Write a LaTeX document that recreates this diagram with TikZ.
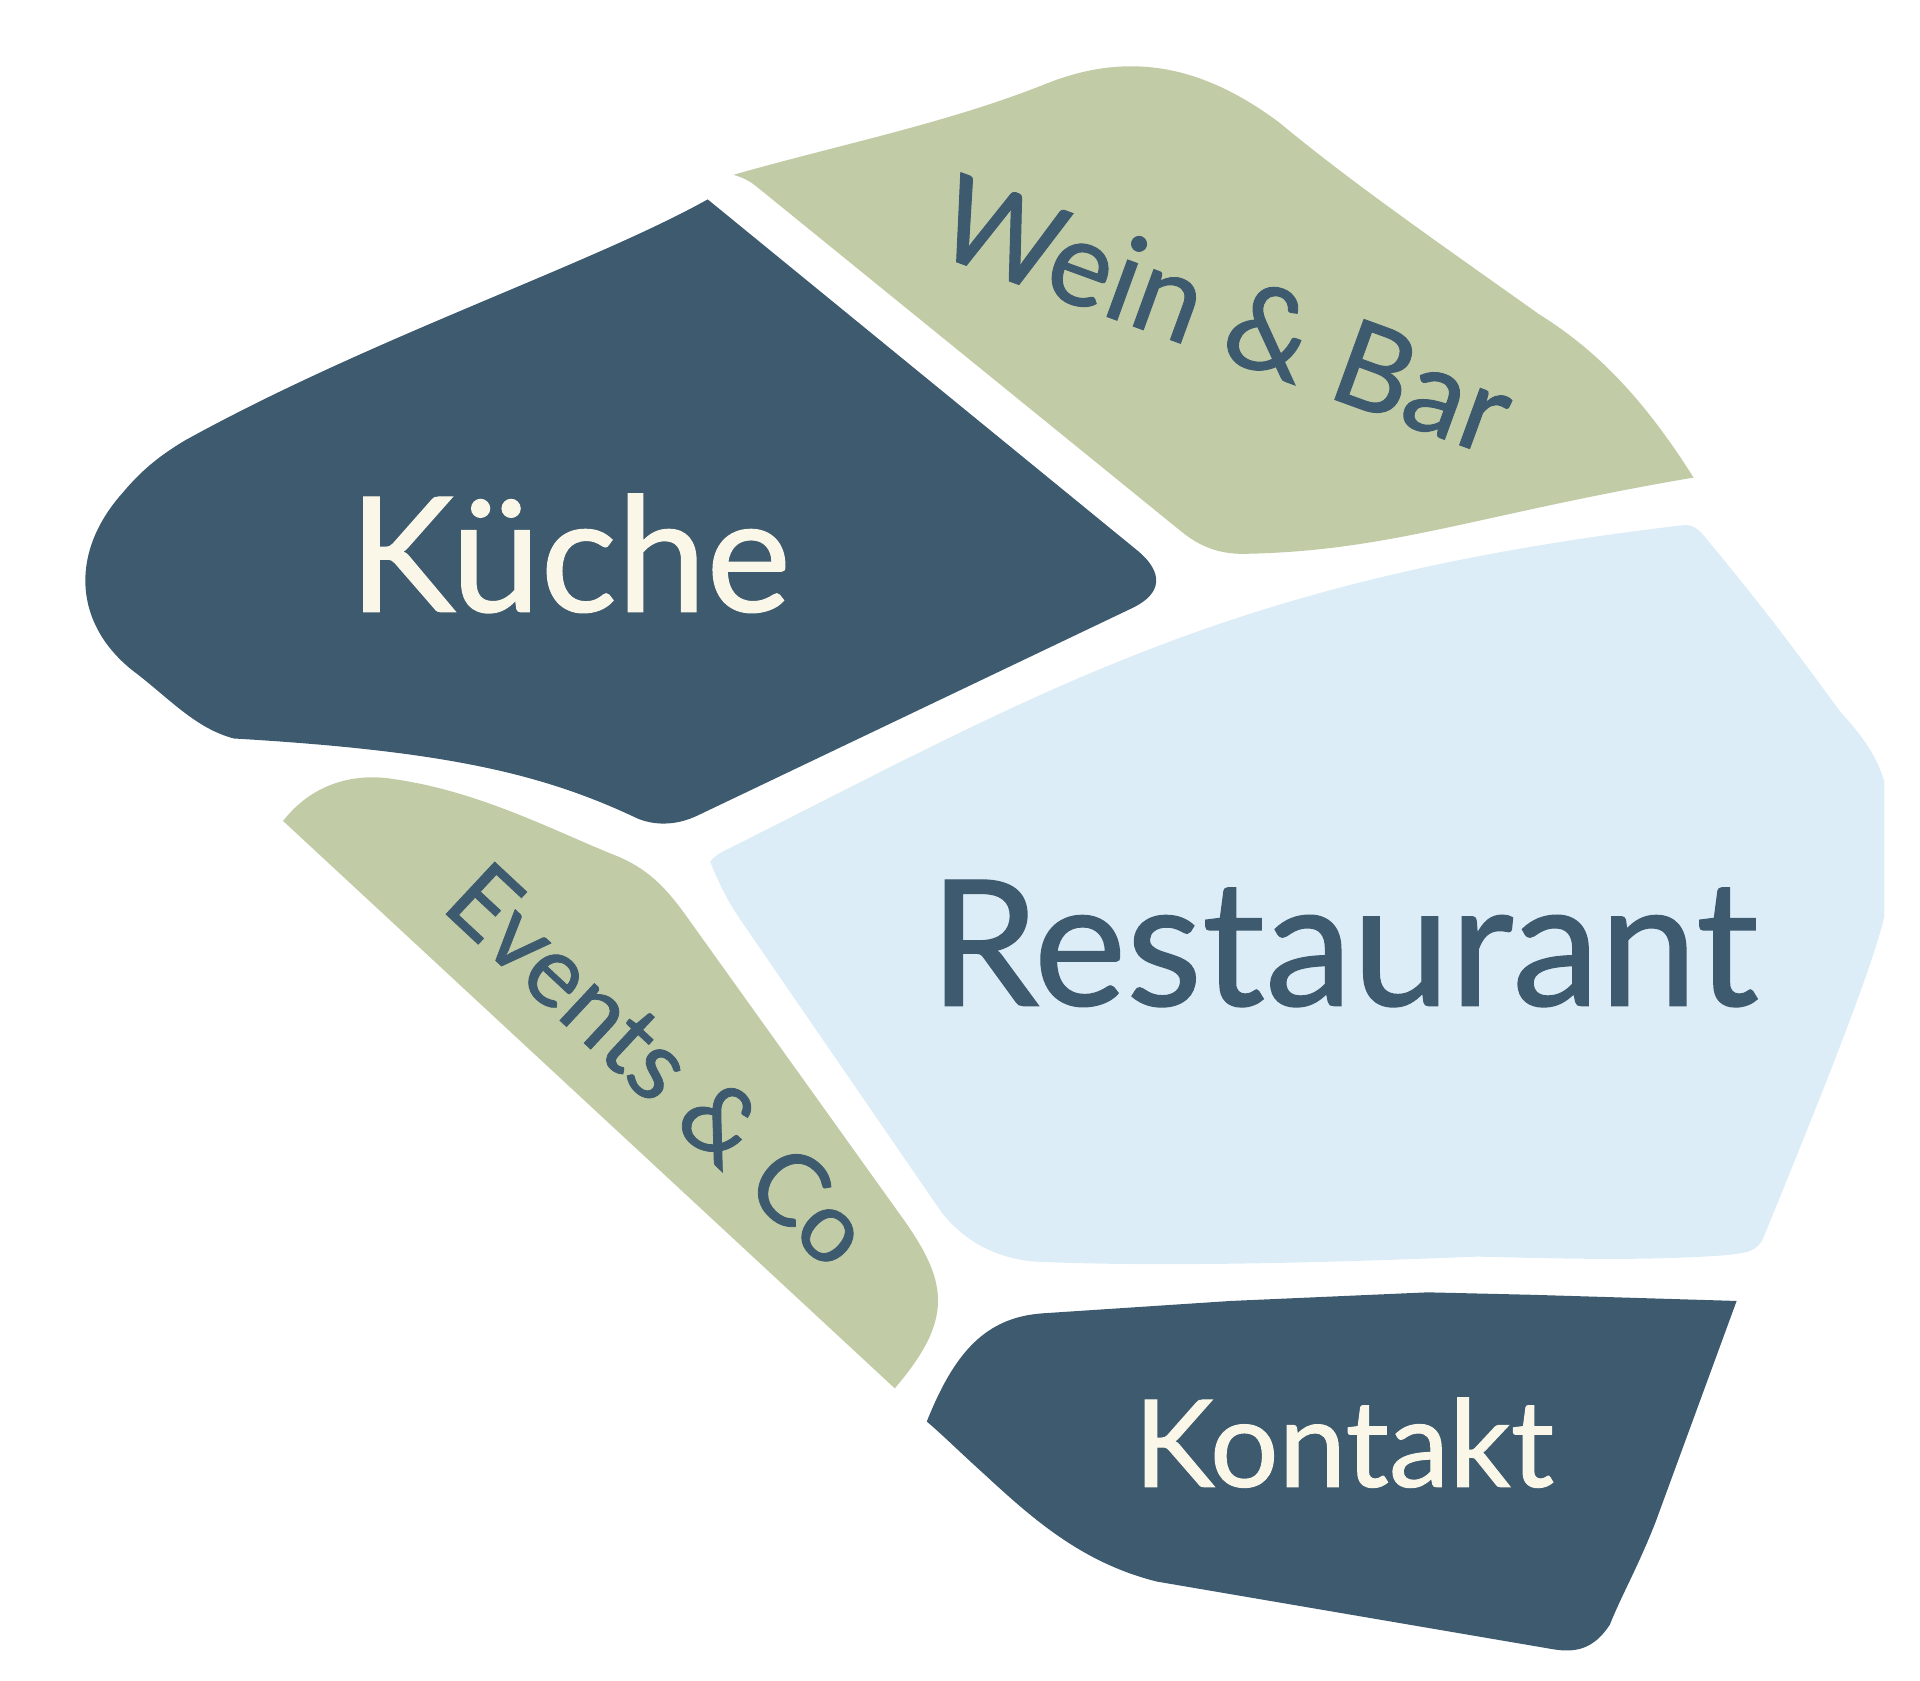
\documentclass[tikz,border=0pt]{standalone}
\usepackage{fontspec}
\setmainfont{Lato}
\newfontfamily\signfont{Lato}[FakeBold=0.8]
\usepackage{xcolor}
\usepackage{tikz}

\definecolor{navy}{HTML}{3D5A6E}
\definecolor{sage}{HTML}{C1CCA6}
\definecolor{sky}{HTML}{DCEDF7}
\definecolor{cream}{HTML}{FBF7E8}

\begin{document}
\begin{tikzpicture}[x=0.01cm, y=-0.01cm,
    lbl/.style={anchor=base, inner sep=0pt}]
    \useasboundingbox (0,0) rectangle (1560,1365);
    % Kueche
    \fill[navy] (575,162) -- (925,448) .. controls (945,465) and (945,482) .. (920,494)
      -- (568,662) .. controls (548,672) and (530,670) .. (518,665)
      .. controls (440,628) and (360,610) .. (190,600)
      .. controls (160,592) and (140,570) .. (112,548)
      .. controls (60,510) and (55,450) .. (100,400)
      .. controls (115,382) and (130,370) .. (150,358)
      .. controls (300,275) and (480,215) .. cycle;
    % Wein & Bar
    \fill[sage] (596,142) .. controls (606,145) and (610,148) .. (614,151)
      -- (960,432) .. controls (975,444) and (990,450) .. (1010,450)
      .. controls (1130,448) and (1200,418) .. (1376,388)
      .. controls (1330,315) and (1290,280) .. (1250,255)
      .. controls (1180,205) and (1100,150) .. (1040,100)
      .. controls (980,55) and (920,40) .. (850,68)
      .. controls (770,100) and (680,118) .. cycle;
    % Restaurant
    \fill[sky] (577,700) .. controls (582,694) and (587,692) .. (593,689)
      .. controls (850,560) and (1000,470) .. (1365,427)
      .. controls (1375,425) and (1380,430) .. (1385,436)
      .. controls (1430,490) and (1460,530) .. (1495,578)
      .. controls (1515,600) and (1525,615) .. (1531,635)
      -- (1531,745) .. controls (1520,790) and (1480,890) .. (1433,1005)
      .. controls (1428,1017) and (1420,1018) .. (1400,1020)
      .. controls (1330,1025) and (1250,1022) .. (1200,1021)
      .. controls (1100,1025) and (950,1030) .. (840,1025)
      .. controls (810,1022) and (785,1010) .. (765,985)
      -- (600,745) .. controls (590,730) and (583,715) .. cycle;
    % Events & Co
    \fill[sage] (230,667) .. controls (255,635) and (290,628) .. (320,633)
      .. controls (390,643) and (450,675) .. (500,695)
      .. controls (525,705) and (540,720) .. (556,742)
      -- (735,992) .. controls (770,1042) and (775,1072) .. (727,1128) -- cycle;
    % Kontakt
    \fill[navy] (848,1067) -- (1000,1057) -- (1160,1050) -- (1245,1052) -- (1411,1057)
      -- (1345,1237) .. controls (1330,1275) and (1318,1295) .. (1308,1320)
      .. controls (1295,1340) and (1280,1343) .. (1262,1340)
      -- (940,1285) .. controls (880,1270) and (840,1235) .. (800,1198)
      .. controls (780,1180) and (765,1165) .. (753,1155)
      .. controls (775,1100) and (800,1070) .. cycle;
    % labels
    \node[lbl, cream, font=\signfont\fontsize{37}{40}\selectfont] (kueche) at (463,497) {Küche};
    \node[lbl, navy, font=\signfont\fontsize{40.5}{43}\selectfont] (restaurant) at (1092,817) {Restaurant};
    \node[lbl, cream, font=\signfont\fontsize{28}{31}\selectfont] (kontakt) at (1092,1208) {Kontakt};
    \node[lbl, navy, rotate=-20, font=\signfont\fontsize{27.5}{30}\selectfont] (wein) at (984,288) {Wein \& Bar};
    \node[lbl, navy, rotate=-43, font=\signfont\fontsize{23}{26}\selectfont] (events) at (516,886) {Events \& Co};
  \end{tikzpicture}
\end{document}
